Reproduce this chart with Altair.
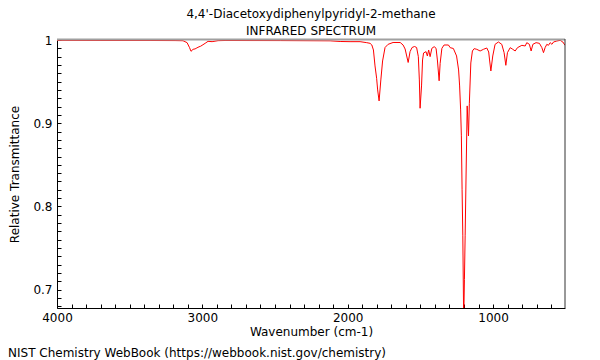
import altair as alt
import pandas as pd

title_lines = ["4,4'-Diacetoxydiphenylpyridyl-2-methane", "INFRARED SPECTRUM"]
x_title = "Wavenumber (cm-1)"
y_title = "Relative Transmittance"
footer = "NIST Chemistry WebBook (https://webbook.nist.gov/chemistry)"

wavenumber = [
    4000, 3704, 3360, 3188, 3133, 3105, 3088, 3078, 3064, 3050, 3043, 3030, 3023, 3012, 3002,
    2981, 2961, 2933, 2892, 2844, 2465, 2121, 2052, 1984, 1915, 1869, 1846, 1834, 1823, 1812,
    1801, 1794, 1784, 1772, 1760, 1743, 1722, 1688, 1639, 1619, 1605, 1584, 1571, 1557, 1540,
    1526, 1514, 1507, 1502, 1492, 1485, 1478, 1461, 1452, 1443, 1433, 1421, 1405, 1392, 1383,
    1371, 1364, 1352, 1337, 1307, 1295, 1273, 1251, 1237, 1230, 1223, 1218, 1213, 1208, 1202,
    1197, 1192, 1185, 1178, 1169, 1163, 1153, 1142, 1130, 1112, 1089, 1066, 1043, 1030, 1024,
    1015, 1002, 986, 963, 940, 924, 912, 901, 882, 864, 848, 832, 802, 779, 768,
    750, 738, 726, 704, 681, 664, 653, 642, 630, 619, 607, 595, 584, 561, 538,
    520, 505,
]
transmittance = [
    0.9995, 0.9994, 0.9994, 0.9993, 0.9991, 0.9968, 0.9908, 0.9864, 0.9888, 0.9893, 0.9900, 0.9912, 0.9918, 0.9925, 0.9936,
    0.9960, 0.9984, 0.9980, 0.9992, 0.9994, 0.9993, 0.9990, 0.9982, 0.9980, 0.9980, 0.9968, 0.9960, 0.9940, 0.9880, 0.9688,
    0.9540, 0.9400, 0.9268, 0.9520, 0.9748, 0.9910, 0.9948, 0.9970, 0.9970, 0.9940, 0.9892, 0.9730, 0.9860, 0.9910, 0.9922,
    0.9910, 0.9800, 0.9520, 0.9180, 0.9448, 0.9760, 0.9844, 0.9860, 0.9808, 0.9880, 0.9800, 0.9900, 0.9920, 0.9900, 0.9760,
    0.9510, 0.9720, 0.9900, 0.9940, 0.9940, 0.9908, 0.9898, 0.9808, 0.9640, 0.9448, 0.9160, 0.8848, 0.8200, 0.7647, 0.6600,
    0.7120, 0.7647, 0.8450, 0.9208, 0.8848, 0.9240, 0.9724, 0.9868, 0.9896, 0.9888, 0.9868, 0.9888, 0.9904, 0.9856, 0.9760,
    0.9628, 0.9808, 0.9948, 0.9976, 0.9948, 0.9848, 0.9696, 0.9848, 0.9908, 0.9888, 0.9868, 0.9908, 0.9936, 0.9928, 0.9968,
    0.9948, 0.9868, 0.9948, 0.9968, 0.9960, 0.9908, 0.9848, 0.9908, 0.9948, 0.9936, 0.9968, 0.9948, 0.9976, 0.9988, 0.9996,
    0.9976, 0.9936,
]

# tick positions: every 100 cm-1 (labelled every 1000), every 0.01 (labelled every 0.1)
x_ticks = list(range(600, 4001, 100))
y_ticks = [round(0.68 + 0.01 * i, 2) for i in range(33)]

W, H = 508, 268
FONT = "DejaVu Sans"

df = pd.DataFrame({"wn": wavenumber, "T": transmittance})
xs = alt.Scale(domain=[4000, 505], nice=False, zero=False)
ys = alt.Scale(domain=[0.678, 1.0], nice=False, zero=False)

x_axis = alt.Axis(
    values=x_ticks, title=x_title, orient="bottom",
    labelExpr="datum.value % 1000 === 0 ? format(datum.value, 'd') : ''",
    ticks=True, tickSize=alt.ExprRef(expr="-4"), tickColor="black", tickWidth=1,
    labelPadding=8, labelFlush=False, labelOverlap=False,
    titleY=18, titleBaseline="top")
y_axis = alt.Axis(
    values=y_ticks, title=y_title, orient="left",
    labelExpr="abs(datum.value * 10 - round(datum.value * 10)) < 0.000001 ? format(datum.value, '.1~f') : ''",
    ticks=True, tickSize=alt.ExprRef(expr="-4"), tickColor="black", tickWidth=1,
    labelPadding=9, labelFlush=False, labelOverlap=False,
    titleX=-36, titleY=H / 2)

line = alt.Chart(df).mark_line(color="#ff0000", strokeWidth=1, clip=True).encode(
    x=alt.X("wn:Q", scale=xs, axis=x_axis),
    y=alt.Y("T:Q", scale=ys, axis=y_axis),
)

top_border = alt.Chart(pd.DataFrame({"a": [0]})).mark_rule(color="#a0a0a0", strokeWidth=2).encode(
    x=alt.value(0), x2=alt.value(W), y=alt.value(-0.5))
right_border = alt.Chart(pd.DataFrame({"a": [0]})).mark_rule(color="#333333", strokeWidth=1).encode(
    x=alt.value(W), y=alt.value(-1), y2=alt.value(H))

foot = alt.Chart(pd.DataFrame({"t": [footer]})).mark_text(
    align="left", baseline="middle", font=FONT, fontSize=12, color="black").encode(
    text="t:N", x=alt.value(-49), y=alt.value(313))

chart = alt.layer(line, top_border, right_border, foot).properties(
    width=W, height=H,
    title=alt.TitleParams(text=title_lines, font=FONT, fontSize=12, fontWeight="normal",
                          color="black", anchor="middle", frame="group", offset=1, dy=5,
                          lineHeight=17),
    autosize=alt.AutoSizeParams(type="none"),
    padding={"left": 49, "top": 32, "right": 27, "bottom": 52},
).configure_view(stroke=None).configure_axis(
    domainColor="black", domainWidth=1, grid=False,
    labelFont=FONT, labelFontSize=12, labelColor="black",
    titleFont=FONT, titleFontSize=12, titleFontWeight="normal", titleColor="black",
)

chart.save("out.html", embed_options={"renderer": "svg", "actions": False})
